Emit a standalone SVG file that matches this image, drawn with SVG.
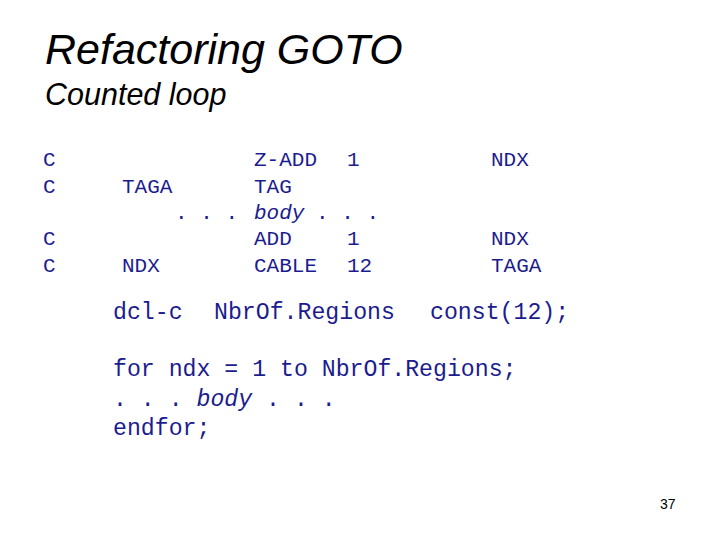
<svg xmlns="http://www.w3.org/2000/svg" width="720" height="540" viewBox="0 0 720 540">
<style>
.t{font-family:"Liberation Sans",Arial,sans-serif;font-style:italic;fill:#000}
.c{font-family:"Liberation Mono","Courier New",monospace;font-size:21px;fill:#1c1c8f}
.l{font-family:"Liberation Mono","Courier New",monospace;font-size:23.2px;fill:#1c1c8f}
.i{font-style:italic}
</style>
<rect width="720" height="540" fill="#fff"/>
<text class="t" x="45" y="64" font-size="43">Refactoring GOTO</text>
<text class="t" x="45" y="105" font-size="30.5">Counted loop</text>
<g class="c">
<text x="43" y="166">C</text><text x="254" y="166">Z-ADD</text><text x="347" y="166">1</text><text x="491" y="166">NDX</text>
<text x="43" y="193">C</text><text x="122" y="193">TAGA</text><text x="254" y="193">TAG</text>
<text x="175" y="219">. . .</text><text x="254" y="219" class="i">body</text><text x="316" y="219">. . .</text>
<text x="43" y="245">C</text><text x="254" y="245">ADD</text><text x="347" y="245">1</text><text x="491" y="245">NDX</text>
<text x="43" y="272">C</text><text x="122" y="272">NDX</text><text x="254" y="272">CABLE</text><text x="347" y="272">12</text><text x="491" y="272">TAGA</text>
</g>
<g class="l">
<text x="113" y="319">dcl-c</text><text x="214" y="319">NbrOf.Regions</text><text x="430" y="319">const(12);</text>
<text x="113" y="376">for ndx = 1 to NbrOf.Regions;</text>
<text x="113" y="406">. . . <tspan class="i">body</tspan> . . .</text>
<text x="113" y="435">endfor;</text>
</g>
<text x="660" y="509" font-family="Liberation Sans,Arial,sans-serif" font-size="14">37</text>
</svg>
